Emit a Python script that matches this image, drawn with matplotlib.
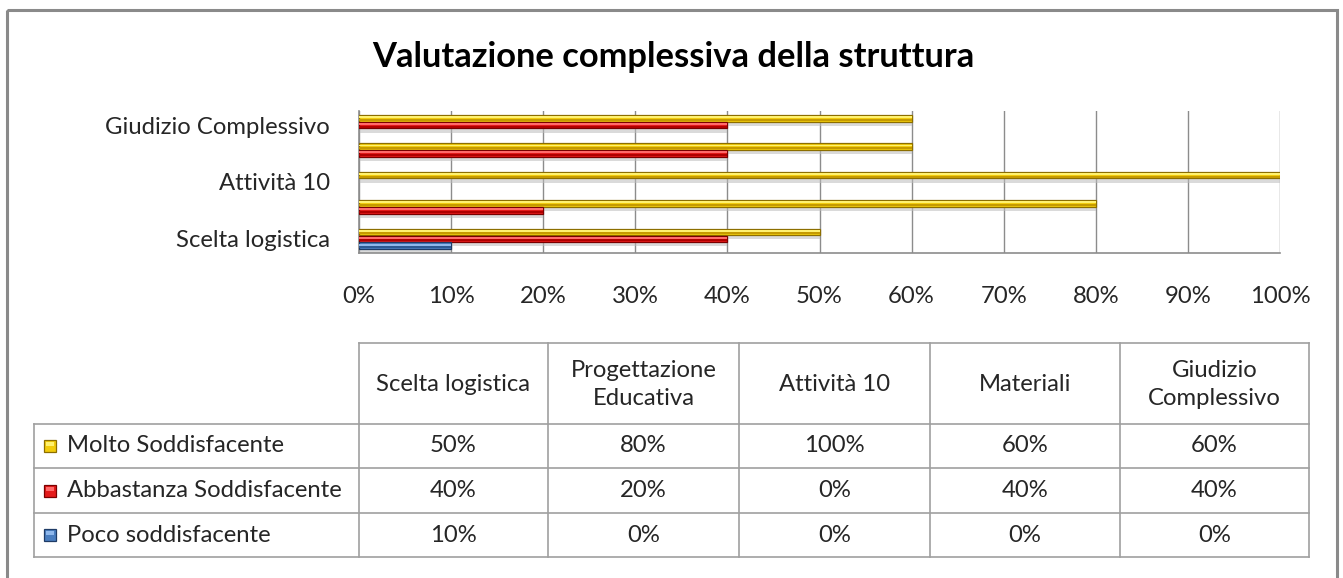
import matplotlib
matplotlib.use("Agg")
import matplotlib.pyplot as plt
import numpy as np
from matplotlib.patches import Rectangle
from matplotlib.ticker import PercentFormatter

W, H = 1343, 578
FONT = "Lato"
plt.rcParams['font.family'] = [FONT, 'DejaVu Sans']

title = "Valutazione complessiva della struttura"
categories = ["Scelta logistica", "Progettazione Educativa", "Attività 10", "Materiali", "Giudizio Complessivo"]
header_labels = ["Scelta logistica", "Progettazione\nEducativa", "Attività 10", "Materiali", "Giudizio\nComplessivo"]
series_names = ["Molto Soddisfacente", "Abbastanza Soddisfacente", "Poco soddisfacente"]
molto = [0.50, 0.80, 1.00, 0.60, 0.60]
abbastanza = [0.40, 0.20, 0.00, 0.40, 0.40]
poco = [0.10, 0.00, 0.00, 0.00, 0.00]
series_values = [molto, abbastanza, poco]

colors = ["#F2CC0C", "#E41A1A", "#4A7EC0"]
highlights = ["#FFF170", "#FF6A6A", "#8FB8EC"]
lowlights = ["#C59A00", "#B00000", "#2D5A94"]
edges = ["#8C6E00", "#7A0000", "#1F3B66"]
offsets = [0.245, 0.0, -0.245]
bar_h = 0.23
TXT = "#262626"
FS = 17.2

fig = plt.figure(figsize=(W / 100, H / 100), dpi=100)
fig.patch.set_facecolor("white")

# chart axes
ax = fig.add_axes([359 / W, (H - 253) / H, 921 / W, 142 / H])
y = np.arange(len(categories))
for vals, c, hl, ll, ec, off in zip(series_values, colors, highlights, lowlights, edges, offsets):
    v = np.array(vals)
    m = v > 0
    # shadow
    ax.barh(y[m] + off - 0.15, v[m], height=bar_h, color="#bdbdbd", alpha=0.55,
            linewidth=0, zorder=1)
    ax.barh(y[m] + off, v[m], height=bar_h, color=c, edgecolor=ec,
            linewidth=0.9, zorder=3)
    ax.barh(y[m] + off - 0.055, v[m], height=bar_h * 0.3, color=ll,
            linewidth=0, zorder=4)
    ax.barh(y[m] + off + 0.04, v[m], height=bar_h * 0.3, color=hl,
            linewidth=0, zorder=4)

ax.set_xlim(0, 1)
ax.set_ylim(-0.5, len(categories) - 0.5)
ax.set_xticks(np.arange(0, 1.01, 0.1))
ax.xaxis.set_major_formatter(PercentFormatter(1.0, decimals=0))
shown = list(range(0, len(categories), 2))
ax.set_yticks(shown)
ax.set_yticklabels([categories[i] for i in shown])
ax.tick_params(axis="x", length=0, pad=24, labelsize=FS, labelcolor=TXT)
ax.tick_params(axis="y", length=0, pad=21, labelsize=FS, labelcolor=TXT)
ax.grid(axis="x", color="#8c8c8c", linewidth=1, zorder=0)
ax.set_axisbelow(True)
for s in ["top", "right"]:
    ax.spines[s].set_visible(False)
for s in ["left", "bottom"]:
    ax.spines[s].set_color("#8c8c8c")
    ax.spines[s].set_linewidth(1.2)

# overlay axes in pixel coordinates for frame, title and data table
ov = fig.add_axes([0, 0, 1, 1])
ov.set_xlim(0, W)
ov.set_ylim(H, 0)
ov.axis("off")
ov.patch.set_alpha(0)

ov.add_patch(Rectangle((7, 10), 1330, 600, fill=False, edgecolor="#8a8a8a", linewidth=2.2))
ov.text(673, 57, title, ha="center", va="center", fontsize=24.8, fontweight="bold", color="black")

col_x = [34, 359, 548, 739, 930, 1120, 1309]
row_y = [343, 424, 468, 513, 557]
gc = "#a0a0a0"
lw = 1.2
# header row borders (data columns only)
ov.plot([col_x[1], col_x[-1]], [row_y[0], row_y[0]], color=gc, lw=lw)
for x in col_x[1:]:
    ov.plot([x, x], [row_y[0], row_y[1]], color=gc, lw=lw)
for yy in row_y[1:]:
    ov.plot([col_x[0], col_x[-1]], [yy, yy], color=gc, lw=lw)
for x in col_x:
    ov.plot([x, x], [row_y[1], row_y[-1]], color=gc, lw=lw)

for j, lab in enumerate(header_labels):
    cx = (col_x[j + 1] + col_x[j + 2]) / 2
    ov.text(cx, (row_y[0] + row_y[1]) / 2 + 1, lab, ha="center", va="center",
            fontsize=FS, color=TXT, linespacing=1.45)

for i, (name, vals) in enumerate(zip(series_names, series_values)):
    cy = (row_y[i + 1] + row_y[i + 2]) / 2
    ov.add_patch(Rectangle((44, cy - 6), 12, 12, facecolor=colors[i], edgecolor=edges[i], linewidth=0.9))
    ov.add_patch(Rectangle((46, cy - 4), 8, 4, facecolor=highlights[i], linewidth=0))
    ov.text(67, cy, name, ha="left", va="center", fontsize=FS, color=TXT)
    for j, v in enumerate(vals):
        cx = (col_x[j + 1] + col_x[j + 2]) / 2
        ov.text(cx, cy, f"{v * 100:.0f}%", ha="center", va="center", fontsize=FS, color=TXT)

fig.savefig("out.png", dpi=100)
